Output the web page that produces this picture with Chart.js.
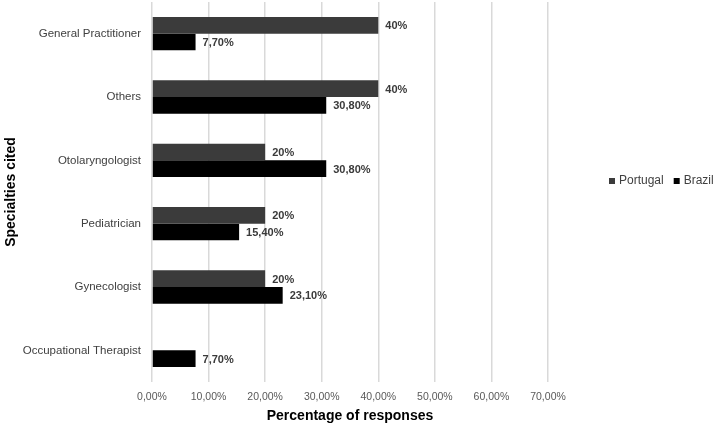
<!DOCTYPE html>
<html>
<head>
<meta charset="utf-8">
<script src="https://cdn.jsdelivr.net/npm/chart.js@4"></script>
<style>
  html, body { margin: 0; padding: 0; background: #fff; }
  #wrap { width: 714px; height: 426px; }
</style>
</head>
<body>
<div id="wrap"><canvas id="chart"></canvas></div>
<script>
const specialties = ["General Practitioner", "Others", "Otolaryngologist", "Pediatrician", "Gynecologist", "Occupational Therapist"];
const portugal = [40, 40, 20, 20, 20, null];
const brazil = [7.7, 30.8, 30.8, 15.4, 23.1, 7.7];
const xTicks = [0, 10, 20, 30, 40, 50, 60, 70];

const FONT = "'Liberation Sans', Arial, sans-serif";

function pct(v, dec) {
    return v.toFixed(dec).replace(".", ",") + "%";
}

// value labels next to each bar
const barLabels = {
    id: "barLabels",
    afterDatasetsDraw(chart) {
        const c = chart.ctx;
        c.save();
        c.font = "bold 11px " + FONT;
        c.fillStyle = "#3a3a3a";
        c.textAlign = "left";
        c.textBaseline = "middle";
        chart.data.datasets.forEach((ds, i) => {
            chart.getDatasetMeta(i).data.forEach((bar, j) => {
                const v = ds.data[j];
                if (v == null) return;
                c.fillText(pct(v, ds.labelDecimals), bar.x + 7, bar.y + 1);
            });
        });
        c.restore();
    }
};

// one-row legend on the right
const rowLegend = {
    id: "rowLegend",
    afterDraw(chart) {
        const c = chart.ctx;
        c.save();
        c.font = "12px " + FONT;
        c.textBaseline = "middle";
        let x = 609;
        const y = 181;
        chart.data.datasets.forEach(ds => {
            c.fillStyle = ds.backgroundColor;
            c.fillRect(x, y - 3, 6, 6);
            x += 10;
            c.fillStyle = "#404040";
            c.fillText(ds.label, x, y);
            x += c.measureText(ds.label).width + 10;
        });
        c.restore();
    }
};

new Chart(document.getElementById("chart"), {
    type: "bar",
    data: {
        labels: specialties,
        datasets: [
            {
                label: "Portugal",
                data: portugal,
                backgroundColor: "#3b3b3b",
                labelDecimals: 0
            },
            {
                label: "Brazil",
                data: brazil,
                backgroundColor: "#000000",
                labelDecimals: 2
            }
        ]
    },
    options: {
        indexAxis: "y",
        responsive: true,
        maintainAspectRatio: false,
        animation: false,
        categoryPercentage: 0.527,
        barPercentage: 1,
        layout: { padding: { top: 2, right: 166, bottom: 0, left: 0 } },
        plugins: {
            legend: { display: false },
            tooltip: { enabled: false }
        },
        scales: {
            x: {
                min: 0,
                max: 70,
                afterBuildTicks(scale) {
                    scale.ticks = xTicks.map(v => ({ value: v }));
                },
                afterFit(scale) {
                    scale.height = 44;
                    scale.paddingLeft = 0;
                    scale.paddingRight = 0;
                },
                grid: { color: "#d9d9d9", lineWidth: 1.5, drawTicks: false },
                border: { display: false },
                ticks: {
                    padding: 9,
                    color: "#595959",
                    font: { family: FONT, size: 10.5 },
                    callback: v => pct(v, 2)
                },
                title: {
                    display: true,
                    text: "Percentage of responses",
                    color: "#000",
                    font: { family: FONT, size: 14, weight: "bold" },
                    padding: { top: 0, bottom: 1 }
                }
            },
            y: {
                afterFit(scale) {
                    scale.width = 152;
                    scale.paddingTop = 0;
                    scale.paddingBottom = 0;
                },
                grid: { display: false, drawTicks: false },
                border: { display: false },
                ticks: {
                    padding: 11,
                    color: "#404040",
                    font: { family: FONT, size: 11.5 }
                },
                title: {
                    display: true,
                    text: "Specialties cited",
                    color: "#000",
                    font: { family: FONT, size: 14, weight: "bold" },
                    padding: { top: 3, bottom: 0 }
                }
            }
        }
    },
    plugins: [barLabels, rowLegend]
});
</script>
</body>
</html>
